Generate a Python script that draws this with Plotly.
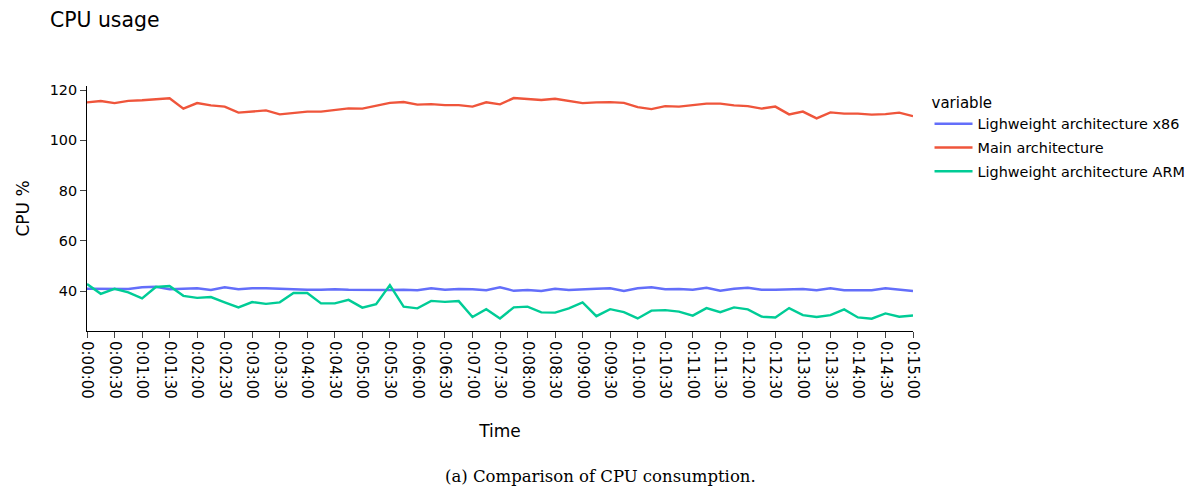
import plotly.graph_objects as go

# ── Data (one sample every 15 s, 0:00:00 → 0:15:00) ──────────────────────────

step_s = 15
tick_step_s = 30

x86 = [
    40.9, 40.9, 40.8, 40.8, 41.5, 41.7, 40.7, 40.8, 41.1, 40.4,
    41.5, 40.7, 41.1, 41.1, 40.9, 40.5, 40.5, 40.5, 40.7, 40.5,
    40.4, 40.3, 40.4, 40.5, 40.3, 41.1, 40.5, 40.8, 40.7, 40.3,
    41.5, 40.1, 40.4, 40.0, 40.9, 40.4, 40.8, 40.9, 41.1, 40.0,
    41.1, 41.5, 40.7, 40.8, 40.5, 41.3, 40.1, 40.9, 41.3, 40.5,
    40.5, 40.5, 40.8, 40.3, 41.1, 40.3, 40.3, 40.3, 41.1, 40.7,
    40.0,
]
main_arch = [
    115.1, 115.6, 114.8, 115.7, 115.9, 116.3, 116.7, 112.6, 114.8, 113.9,
    113.4, 111.0, 111.4, 111.9, 110.3, 110.8, 111.4, 111.4, 112.0, 112.7,
    112.6, 113.8, 114.9, 115.2, 114.2, 114.4, 114.0, 114.0, 113.4, 115.1,
    114.3, 116.8, 116.4, 116.0, 116.5, 115.5, 114.8, 115.1, 115.2, 114.9,
    113.2, 112.4, 113.6, 113.4, 114.0, 114.6, 114.6, 113.9, 113.6, 112.6,
    113.4, 110.3, 111.4, 108.7, 111.1, 110.6, 110.6, 110.2, 110.4, 111.0,
    109.6,
]
arm = [
    42.8, 38.9, 40.9, 39.5, 37.1, 41.6, 42.0, 38.1, 37.3, 37.6,
    35.5, 33.5, 35.6, 34.9, 35.5, 39.2, 39.2, 35.1, 35.1, 36.5,
    33.4, 34.8, 42.4, 33.8, 33.1, 36.1, 35.7, 36.0, 29.7, 32.8,
    29.1, 33.5, 33.8, 31.5, 31.4, 33.1, 35.5, 30.0, 32.8, 31.6,
    29.1, 32.2, 32.4, 31.8, 30.2, 33.2, 31.6, 33.5, 32.7, 29.8,
    29.5, 33.2, 30.4, 29.7, 30.4, 32.7, 29.5, 29.0, 31.1, 29.8,
    30.3,
]

series = [
    ("Lighweight architecture x86", x86, "#636efa"),
    ("Main architecture", main_arch, "#EF553B"),
    ("Lighweight architecture ARM", arm, "#00cc96"),
]

seconds = [i * step_s for i in range(len(x86))]
tick_vals = [s for s in seconds if s % tick_step_s == 0]
tick_text = [f"{s // 3600}:{(s // 60) % 60:02d}:{s % 60:02d}" for s in tick_vals]

_FONT = dict(family="Verdana, DejaVu Sans, sans-serif", color="#000", size=14.4)

# page body adds an 8px offset, so margins are shifted to compensate
W, H = 1197, 487
L, T, PW, PH = 79, 78, 826, 245

fig = go.Figure()
for name, vals, color in series:
    fig.add_trace(go.Scatter(
        x=seconds, y=vals, name=name, mode="lines", legendgroup=name,
        line=dict(color=color, width=2.4),
    ))

fig.update_layout(
    template="simple_white",
    width=W, height=H,
    font=_FONT,
    title=dict(text="CPU usage", x=42 / W, xanchor="left",
               yref="container", y=1 - 12 / H, yanchor="middle",
               font=dict(size=20.4)),
    margin=dict(l=L, r=W - L - PW, t=T, b=H - T - PH),
    legend=dict(title=dict(text="variable", font=dict(size=15)),
                font=dict(size=14.4), x=1.02, y=0.99,
                itemwidth=38, tracegroupgap=2),
    xaxis=dict(
        title=dict(text="Time", standoff=27),
        range=[0, seconds[-1]],
        tickvals=tick_vals, ticktext=tick_text, tickangle=90,
        tickfont=dict(size=15),
        ticks="outside", ticklen=6, showline=True, linecolor="#000",
    ),
    yaxis=dict(
        title=dict(text="CPU %"),
        range=[24.1, 121.6],
        tickvals=[40, 60, 80, 100, 120],
        ticks="outside", ticklen=6, showline=True, linecolor="#000",
    ),
    paper_bgcolor="white", plot_bgcolor="white",
)

fig.add_annotation(
    text="(a) Comparison of CPU consumption.",
    xref="paper", yref="paper",
    x=(592.5 - L) / PW, y=(T + PH - 468) / PH,
    xanchor="center", yanchor="middle", showarrow=False,
    font=dict(family="DejaVu Serif, serif", size=16.5),
)

fig.write_html("out.html")
